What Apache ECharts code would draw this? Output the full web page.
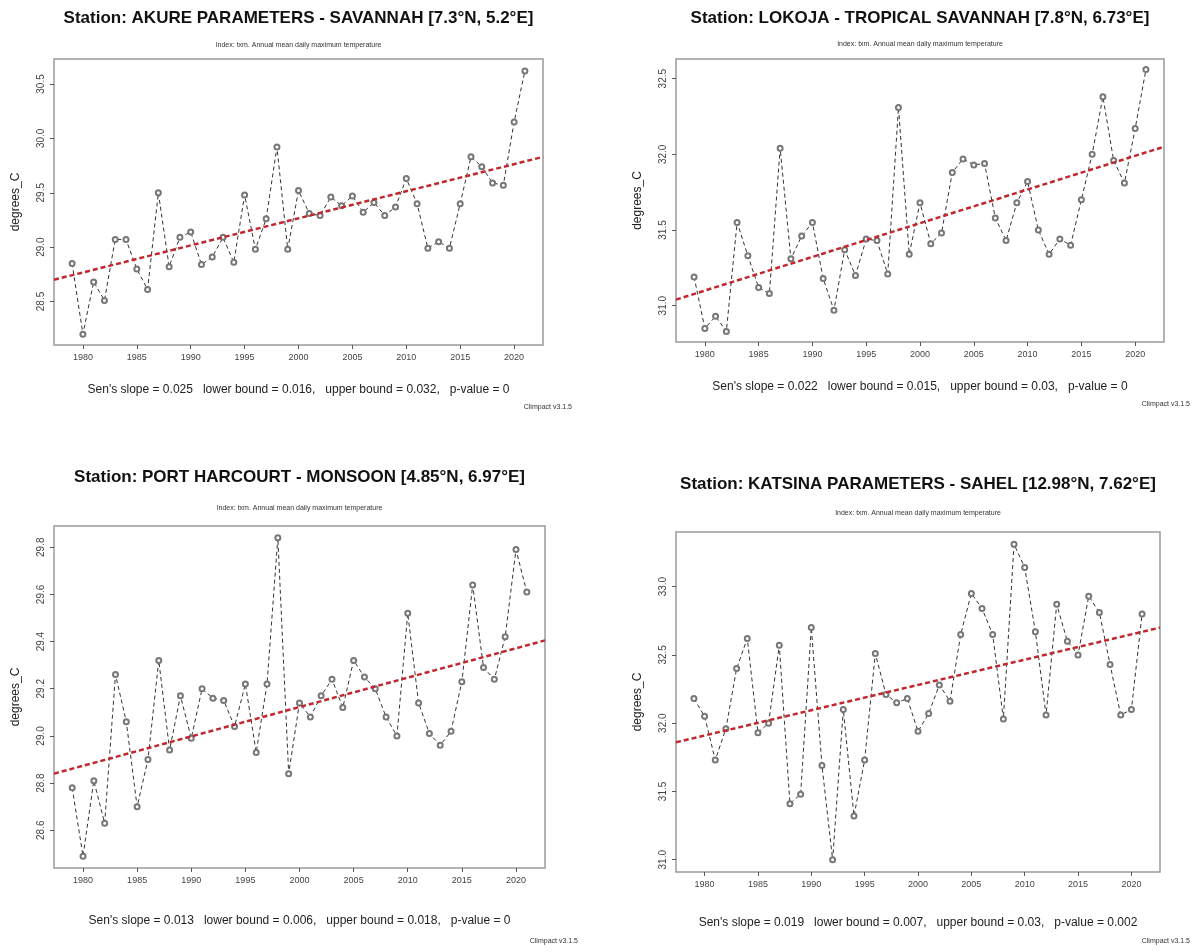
<!DOCTYPE html>
<html><head><meta charset="utf-8">
<script src="https://cdn.jsdelivr.net/npm/echarts@6/dist/echarts.min.js"></script>
<style>html,body{margin:0;padding:0;background:#fff}#c{width:1197px;height:952px}</style>
</head><body><div id="c"></div><script>
// ---- data ----
const years = [1979,1980,1981,1982,1983,1984,1985,1986,1987,1988,1989,1990,1991,1992,1993,1994,1995,1996,1997,1998,1999,2000,2001,2002,2003,2004,2005,2006,2007,2008,2009,2010,2011,2012,2013,2014,2015,2016,2017,2018,2019,2020,2021];
const xTicks = [1980,1985,1990,1995,2000,2005,2010,2015,2020];
const xRange = [1977.32, 2022.68];

const akureValues = [28.85,28.20,28.68,28.51,29.07,29.07,28.80,28.61,29.50,28.82,29.09,29.14,28.84,28.91,29.09,28.86,29.48,28.98,29.26,29.92,28.98,29.52,29.31,29.29,29.46,29.38,29.47,29.32,29.41,29.29,29.37,29.63,29.40,28.99,29.05,28.99,29.40,29.83,29.74,29.59,29.57,30.15,30.62];
const akureTrend = [28.70, 29.83];
const akureYTicks = [28.5,29.0,29.5,30.0,30.5];
const akureYRange = [28.10, 30.73];

const lokojaValues = [31.19,30.85,30.93,30.83,31.55,31.33,31.12,31.08,32.04,31.31,31.46,31.55,31.18,30.97,31.37,31.20,31.44,31.43,31.21,32.31,31.34,31.68,31.41,31.48,31.88,31.97,31.93,31.94,31.58,31.43,31.68,31.82,31.50,31.34,31.44,31.40,31.70,32.00,32.38,31.96,31.81,32.17,32.56];
const lokojaTrend = [31.04, 32.05];
const lokojaYTicks = [31.0,31.5,32.0,32.5];
const lokojaYRange = [30.76, 32.63];

const phValues = [28.78,28.49,28.81,28.63,29.26,29.06,28.70,28.90,29.32,28.94,29.17,28.99,29.20,29.16,29.15,29.04,29.22,28.93,29.22,29.84,28.84,29.14,29.08,29.17,29.24,29.12,29.32,29.25,29.20,29.08,29.00,29.52,29.14,29.01,28.96,29.02,29.23,29.64,29.29,29.24,29.42,29.79,29.61];
const phTrend = [28.84, 29.405];
const phYTicks = [28.6,28.8,29.0,29.2,29.4,29.6,29.8];
const phYRange = [28.44, 29.89];

const katsinaValues = [32.18,32.05,31.73,31.96,32.40,32.62,31.93,32.00,32.57,31.41,31.48,32.70,31.69,31.00,32.10,31.32,31.73,32.51,32.21,32.15,32.18,31.94,32.07,32.28,32.16,32.65,32.95,32.84,32.65,32.03,33.31,33.14,32.67,32.06,32.87,32.60,32.50,32.93,32.81,32.43,32.06,32.10,32.80];
const katsinaTrend = [31.86, 32.70];
const katsinaYTicks = [31.0,31.5,32.0,32.5,33.0];
const katsinaYRange = [30.91, 33.40];

const titles = [
  'Station: AKURE PARAMETERS - SAVANNAH [7.3°N, 5.2°E]',
  'Station: LOKOJA - TROPICAL SAVANNAH [7.8°N, 6.73°E]',
  'Station: PORT HARCOURT - MONSOON [4.85°N, 6.97°E]',
  'Station: KATSINA PARAMETERS - SAHEL [12.98°N, 7.62°E]'
];
const subtitle = 'Index: txm. Annual mean daily maximum temperature';
const senTexts = [
  "Sen's slope = 0.025   lower bound = 0.016,   upper bound = 0.032,   p-value = 0",
  "Sen's slope = 0.022   lower bound = 0.015,   upper bound = 0.03,   p-value = 0",
  "Sen's slope = 0.013   lower bound = 0.006,   upper bound = 0.018,   p-value = 0",
  "Sen's slope = 0.019   lower bound = 0.007,   upper bound = 0.03,   p-value = 0.002"
];
const footer = 'Climpact v3.1.5';
const yName = 'degrees_C';

// ---- layout ----
const FONT = '"Liberation Sans", Arial, sans-serif';
const panels = [
  {g:{left:54, top:59, w:489, h:286}, titleY:18, subY:45, senY:390, footX:572, footY:407, vals:akureValues, trend:akureTrend, yt:akureYTicks, yr:akureYRange},
  {g:{left:676, top:59, w:488, h:283}, titleY:18, subY:44, senY:387, footX:1190, footY:404, vals:lokojaValues, trend:lokojaTrend, yt:lokojaYTicks, yr:lokojaYRange},
  {g:{left:54, top:526, w:491, h:342}, titleY:477, subY:508, senY:921, footX:578, footY:941, vals:phValues, trend:phTrend, yt:phYTicks, yr:phYRange},
  {g:{left:676, top:532, w:484, h:340}, titleY:484, subY:513, senY:923, footX:1190, footY:941, vals:katsinaValues, trend:katsinaTrend, yt:katsinaYTicks, yr:katsinaYRange}
];

const grid = [], xAxis = [], yAxis = [], series = [], graphic = [];
panels.forEach((p, i) => {
  grid.push({left:p.g.left, top:p.g.top, width:p.g.w, height:p.g.h, show:true,
    borderColor:'#9a9a9a', borderWidth:1.5, backgroundColor:'#fff'});
  xAxis.push({type:'value', gridIndex:i, min:xRange[0], max:xRange[1],
    axisLine:{show:false}, splitLine:{show:false},
    axisTick:{show:true, inside:false, length:4, customValues:xTicks, lineStyle:{color:'#555'}},
    axisLabel:{show:true, customValues:xTicks, margin:8, fontSize:9, color:'#444', fontFamily:FONT,
      formatter:v=>String(v)}});
  yAxis.push({type:'value', gridIndex:i, min:p.yr[0], max:p.yr[1],
    axisLine:{show:false}, splitLine:{show:false},
    axisTick:{show:true, inside:false, length:4, customValues:p.yt, lineStyle:{color:'#555'}},
    axisLabel:{show:true, customValues:p.yt, rotate:90, margin:8, fontSize:10, color:'#444', fontFamily:FONT,
      formatter:v=>v.toFixed(1)},
    name:yName, nameLocation:'middle', nameRotate:90, nameGap:32,
    nameTextStyle:{fontSize:12, color:'#222', fontFamily:FONT}});
  series.push({type:'line', xAxisIndex:i, yAxisIndex:i,
    data:years.map((y,k)=>[y, p.vals[k]]),
    symbol:'emptyCircle', symbolSize:5, showSymbol:true, showAllSymbol:true,
    itemStyle:{color:'#777', borderColor:'#777', borderWidth:0.7},
    lineStyle:{color:'#333', width:1, type:[4,3]}, silent:true, z:3});
  series.push({type:'line', xAxisIndex:i, yAxisIndex:i,
    data:[[xRange[0], p.trend[0]],[xRange[1], p.trend[1]]],
    symbol:'none', lineStyle:{color:'#c0282d', width:2.5, type:[5,3]}, silent:true, z:4});
  const cx = p.g.left + p.g.w/2;
  graphic.push({type:'text', x:cx, y:p.titleY, style:{text:titles[i], font:'bold 17px '+FONT, fill:'#111', textAlign:'center', textVerticalAlign:'middle'}});
  graphic.push({type:'text', x:cx, y:p.subY, style:{text:subtitle, font:'7px '+FONT, fill:'#333', textAlign:'center', textVerticalAlign:'middle'}});
  graphic.push({type:'text', x:cx, y:p.senY, style:{text:senTexts[i], font:'12px '+FONT, fill:'#222', textAlign:'center', textVerticalAlign:'middle'}});
  graphic.push({type:'text', x:p.footX, y:p.footY, style:{text:footer, font:'7px '+FONT, fill:'#333', textAlign:'right', textVerticalAlign:'middle'}});
});

const chart = echarts.init(document.getElementById('c'), null, {renderer:'canvas'});
chart.setOption({backgroundColor:'#fff', animation:false, grid, xAxis, yAxis, series, graphic});
</script></body></html>
